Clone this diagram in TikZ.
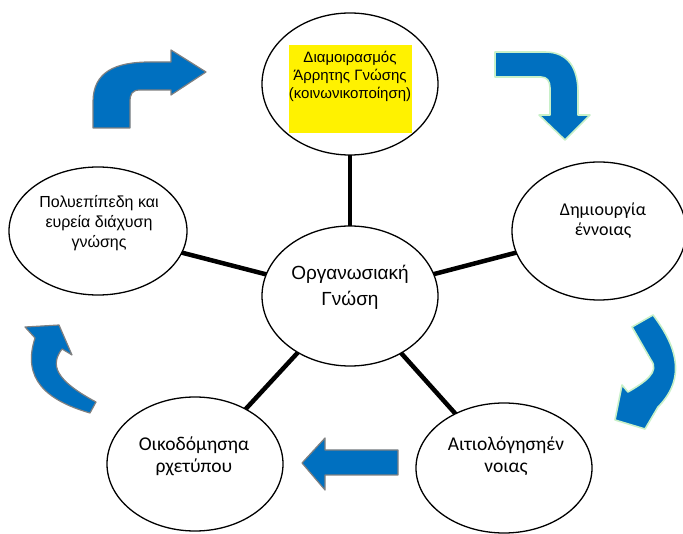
\documentclass[tikz,border=0pt]{standalone}
\usepackage{fontspec}
\setmainfont{Liberation Sans}
\newfontfamily\calfont{Carlito}
\usetikzlibrary{shapes.geometric}
\definecolor{flowblue}{RGB}{0,112,192}
\definecolor{rimgray}{RGB}{128,128,128}
\definecolor{rimgreen}{RGB}{200,240,200}
\pgfdeclarelayer{bg}
\pgfsetlayers{bg,main}
\begin{document}
\begin{tikzpicture}[x=1pt,y=-1pt,
  bubble/.style={draw=black,line width=1.3pt,ellipse,fill=white,inner sep=0pt},
  spoke/.style={line width=4.5pt},
  caption/.style={align=center,inner sep=0pt,text=black},
  turngray/.style={fill=flowblue,draw=rimgray,line width=1.2pt,line join=round},
  turngreen/.style={fill=flowblue,draw=rimgreen,line width=1.6pt,line join=round}]
\useasboundingbox (0,0) rectangle (683,534);

% outer and central ellipses
\node[bubble,minimum width=176pt,minimum height=142pt] (share) at (350,84) {};
\node[bubble,minimum width=176pt,minimum height=140pt] (core) at (350,296) {};
\node[bubble,minimum width=174pt,minimum height=138pt] (concept) at (599,231) {};
\node[bubble,minimum width=176pt,minimum height=130pt] (justify) at (504,468) {};
\node[bubble,minimum width=176pt,minimum height=134pt] (build) at (195,464) {};
\node[bubble,minimum width=178pt,minimum height=128pt] (spread) at (98,231) {};

% thick spokes behind the ellipses
\begin{pgfonlayer}{bg}
  \draw[spoke] (core.center) -- (share.center);
  \draw[spoke] (core.center) -- (concept.center);
  \draw[spoke] (core.center) -- (justify.center);
  \draw[spoke] (core.center) -- (build.center);
  \draw[spoke] (core.center) -- (spread.center);
\end{pgfonlayer}

% highlighted box inside the top ellipse
\node[fill=yellow,minimum width=123pt,minimum height=88pt,inner sep=0pt] (sharebox) at (350.5,89) {};
\node[caption,font=\fontsize{15}{18}\selectfont,anchor=north] (sharetext) at (350,51)
  {Διαμοιρασμός\\Άρρητης Γνώσης\\(κοινωνικοποίηση)};

% texts
\node[caption,font=\fontsize{19}{26}\selectfont] (coretext) at (350,287) {Οργανωσιακή\\Γνώση};
\node[caption,font=\fontsize{16}{20}\selectfont] (spreadtext) at (99,223) {Πολυεπίπεδη και\\ευρεία διάχυση\\γνώσης};
\node[caption,font=\calfont\fontsize{18}{20}\selectfont] (concepttext) at (603,221) {Δημιουργία\\έννοιας};
\node[caption,font=\calfont\fontsize{19.5}{22}\selectfont] (buildtext) at (194,456) {Οικοδόμησηα\\ρχετύπου};
\node[caption,font=\calfont\fontsize{19.5}{22}\selectfont] (justifytext) at (506,456) {Αιτιολόγησηέν\\νοιας};

% block arrows around the cycle
\filldraw[turngray] (93,128) -- (93,102) .. controls (93,72) and (115,62) .. (150,62)
  -- (171,62) -- (171,50) -- (206,72) -- (171,95) -- (171,90) -- (140,90)
  .. controls (132,90) and (130,94) .. (130,102) -- (130,128) -- cycle;
\filldraw[turngreen] (495,52) -- (545,52) .. controls (568,52) and (578,68) .. (578,92)
  -- (578,115) -- (590,115) -- (565,140) -- (539,115) -- (550,115) -- (550,88)
  .. controls (550,81) and (547,77) .. (541,77) -- (495,77) -- cycle;
\filldraw[turngreen] (632,327) -- (653,315) .. controls (672,340) and (690,375) .. (658,407)
  -- (645,429) -- (615,420) -- (622,385) -- (628,392)
  .. controls (645,382) and (660,372) .. (651,360) -- cycle;
\filldraw[turngray] (90,413) .. controls (45,400) and (22,378) .. (35,338)
  -- (25,327) -- (59,325) -- (72,355) -- (62,349)
  .. controls (50,365) and (55,380) .. (96,402) -- cycle;
\filldraw[turngray] (398,450) -- (325,450) -- (325,438) -- (302,463) -- (325,490)
  -- (325,475) -- (398,475) -- cycle;
\end{tikzpicture}
\end{document}
